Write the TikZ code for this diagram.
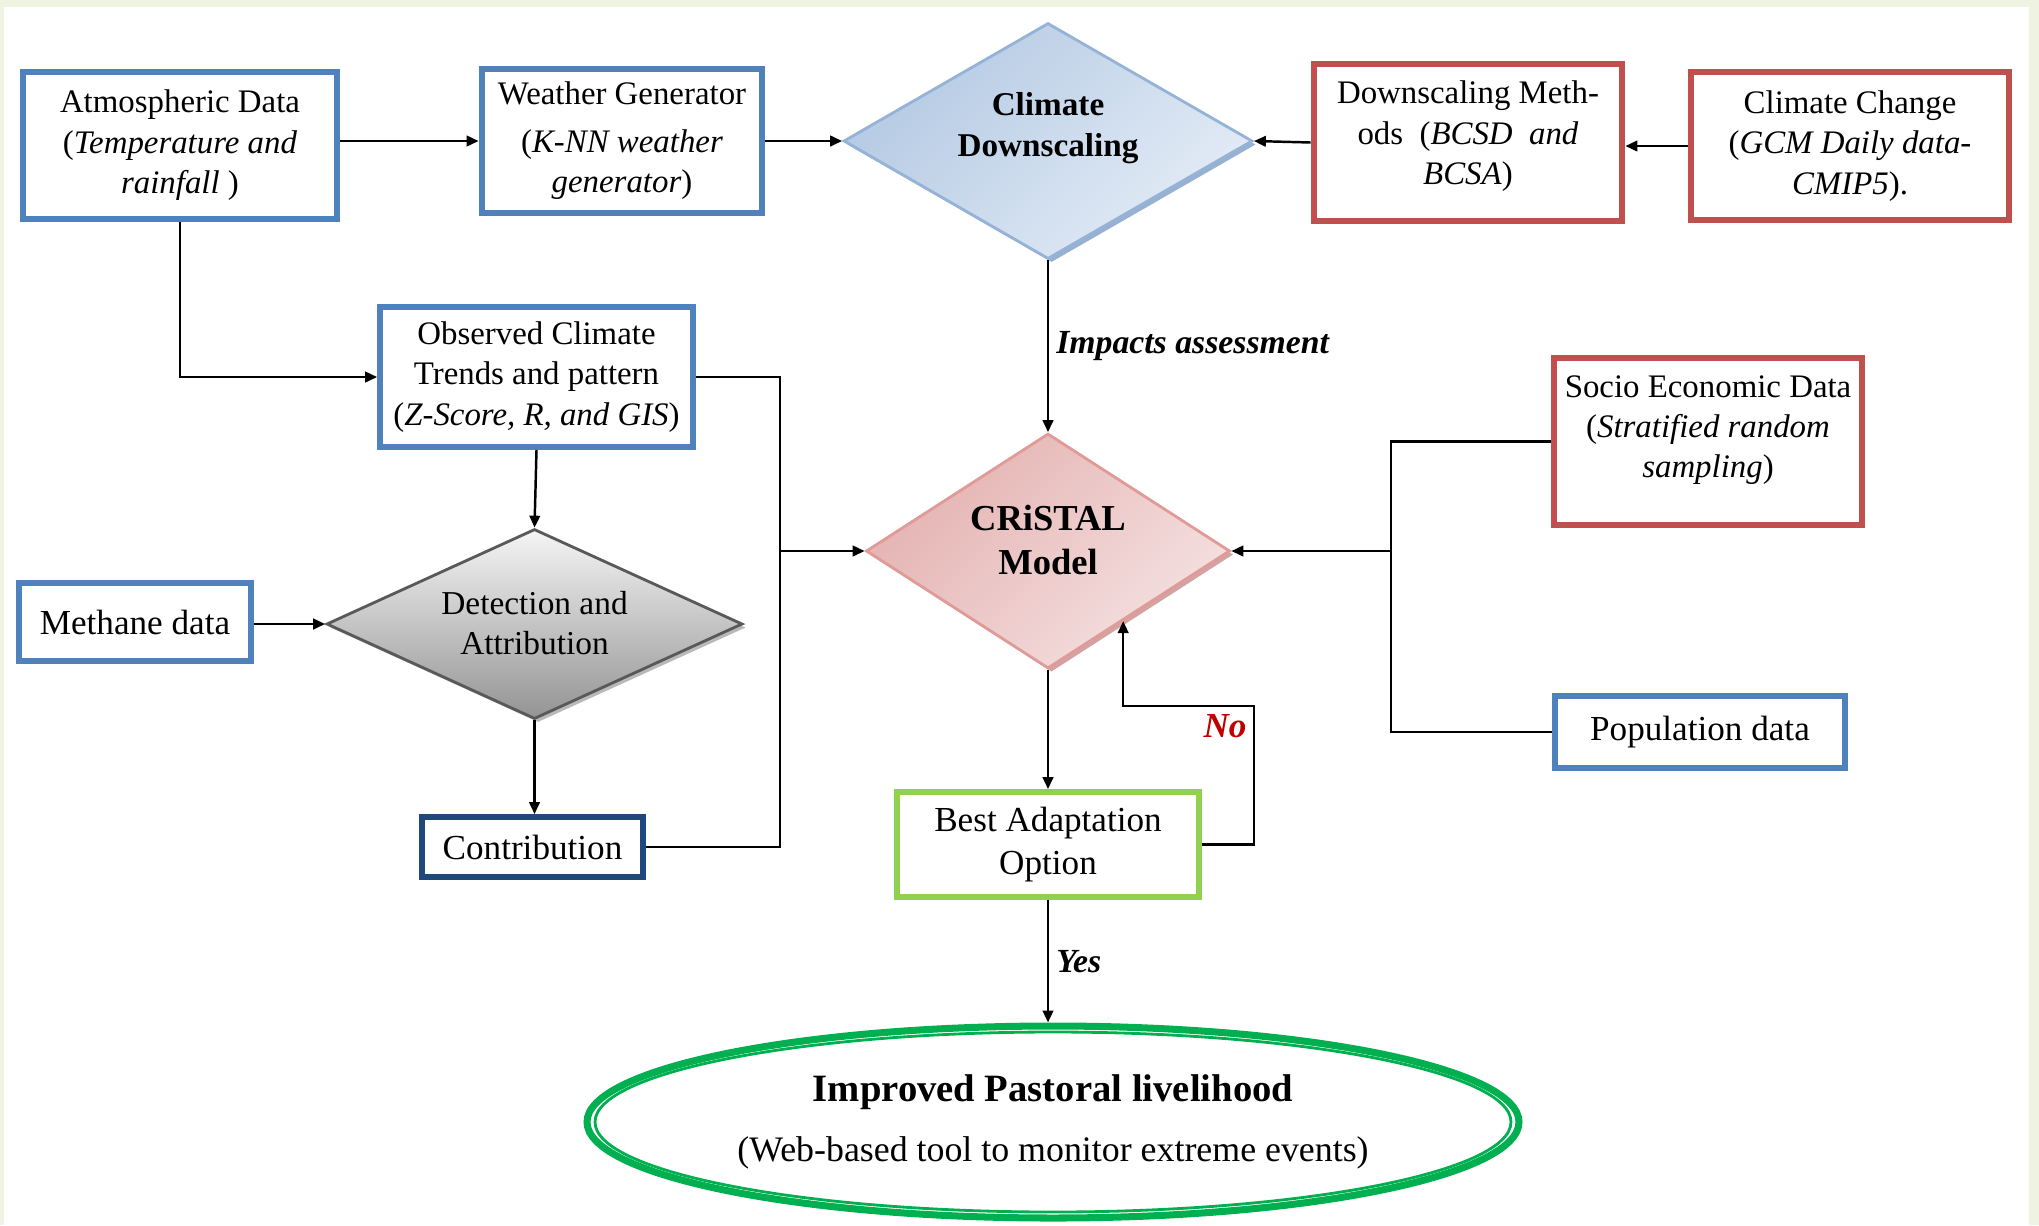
\documentclass[tikz,border=0pt]{standalone}
\usepackage{fontspec}
\setmainfont{Liberation Serif}
\usetikzlibrary{shapes.geometric,arrows.meta,shadows,calc}
\definecolor{pagegreen}{HTML}{EEF3E2}
\definecolor{boxblue}{HTML}{4F81BD}
\definecolor{boxred}{HTML}{C0504D}
\definecolor{boxgreen}{HTML}{92D050}
\definecolor{boxnavy}{HTML}{1F497D}
\definecolor{goalgreen}{HTML}{00B050}
\definecolor{noRed}{HTML}{C00000}
\definecolor{cdsline}{HTML}{95B3D7}
\definecolor{cdsdark}{HTML}{B3C9E3}
\definecolor{cdslight}{HTML}{E4ECF6}
\definecolor{cdsshadow}{HTML}{8EA9CD}
\definecolor{crline}{HTML}{E09A98}
\definecolor{crdark}{HTML}{E4B2B1}
\definecolor{crlight}{HTML}{F5E1E1}
\definecolor{crshadow}{HTML}{CF9A98}
\tikzset{
  databox/.style={draw=#1, line width=1.8pt, fill=white, align=center, inner sep=2pt,
    font=\fontsize{9.35}{11.5}\selectfont},
  onebox/.style={databox=#1, font=\fontsize{10}{12}\selectfont},
  decision/.style={diamond, inner sep=0pt},
  dtext/.style={align=center, inner sep=0pt},
  lbl/.style={font=\fontsize{9.6}{11}\selectfont\bfseries\itshape, inner sep=2pt},
  arr/.style={-{Triangle[length=3.4pt,width=3pt]}, line width=0.7pt},
  conn/.style={line width=0.7pt}
}
\begin{document}
\begin{tikzpicture}[x=0.1mm, y=-0.1mm]
  \useasboundingbox (0,0) rectangle (2039,1225);
  \fill[pagegreen] (0,0) rectangle (2039,1225);
  \fill[white] (4,7) rectangle (2029,1225);
  \path
    (180,145.5) node[databox=boxblue, minimum width=31.45mm, minimum height=14.65mm] (atmos)
      {Atmospheric Data\\(\textit{Temperature and}\\\textit{rainfall} )}
    (622,141) node[databox=boxblue, minimum width=28.05mm, minimum height=14.35mm] (wgen)
      {Weather Generator\\[2pt](\textit{K-NN weather}\\\textit{generator})}
    (1468,142.5) node[databox=boxred, minimum width=30.85mm, minimum height=15.65mm] (dsm)
      {Downscaling Meth-\\ods~ (\textit{BCSD~ and}\\\textit{BCSA})\\[-6pt]\mbox{}}
    (1850,146) node[databox=boxred, minimum width=31.85mm, minimum height=14.85mm] (cc)
      {Climate Change\\(\textit{GCM Daily data-}\\\textit{CMIP5}).}
    (536.5,377) node[databox=boxblue, minimum width=31.25mm, minimum height=13.95mm] (obs)
      {Observed Climate\\Trends and pattern\\(\textit{Z-Score, R, and GIS})}
    (1708,441.5) node[databox=boxred, minimum width=30.75mm, minimum height=16.65mm] (socio)
      {Socio Economic Data\\(\textit{Stratified random}\\\textit{sampling})\\[-3pt]\mbox{}}
    (135,622) node[onebox=boxblue, minimum width=23.25mm, minimum height=7.8mm] (meth)
      {Methane data}
    (532.5,847) node[onebox=boxnavy, minimum width=22.05mm, minimum height=5.95mm] (contrib)
      {Contribution}
    (1048,844.5) node[onebox=boxgreen, minimum width=30.15mm, minimum height=10.45mm] (best)
      {Best Adaptation\\Option}
    (1700,732) node[onebox=boxblue, minimum width=29.05mm, minimum height=7.15mm] (pop)
      {Population data};
  \path
    (1048,141) node[decision, minimum width=40.9mm, minimum height=23.6mm,
      draw=cdsline, line width=0.8pt, top color=cdsdark, bottom color=cdslight, shading angle=45,
      drop shadow={shadow xshift=1pt, shadow yshift=-1pt, fill=cdsshadow, opacity=0.9}] (cds) {}
    (1048,551) node[decision, minimum width=36.4mm, minimum height=23.5mm,
      draw=crline, line width=0.8pt, top color=crdark, bottom color=crlight, shading angle=45,
      drop shadow={shadow xshift=1pt, shadow yshift=-1pt, fill=crshadow, opacity=0.9}] (cristal) {}
    (534.5,624) node[decision, minimum width=41.6mm, minimum height=19.0mm,
      draw=black!65, line width=0.8pt, top color=black!4, bottom color=black!42,
      drop shadow={shadow xshift=1pt, shadow yshift=-1pt, fill=black!30, opacity=0.9}] (detect) {}
    (1053,1122) node[ellipse, draw=goalgreen, line width=2pt, minimum width=93.2mm,
      minimum height=19.2mm, align=center] (goal)
      {{\fontsize{11}{13}\selectfont\bfseries Improved Pastoral livelihood}\\[5pt]%
       {\fontsize{10.2}{12}\selectfont(Web-based tool to monitor extreme events)}};
  \node[dtext, font=\fontsize{9.45}{11.6}\selectfont\bfseries] (cdsText) at (1048,128)
    {Climate\\Downscaling};
  \node[dtext, font=\fontsize{10.4}{12.5}\selectfont\bfseries] (crText) at (1048,540)
    {CRiSTAL\\Model};
  \node[dtext, font=\fontsize{9.5}{11.6}\selectfont] (detText) at (534.5,623)
    {Detection and\\Attribution};
  \draw[goalgreen, line width=0.8pt] (goal.center) ellipse [x radius=45.8mm, y radius=9.0mm];
  \coordinate (jl) at (780,551);
  \coordinate (jr) at (1391,551);
  \coordinate (fb) at ($(cristal.south)!0.41!(cristal.east)$);
  \node[lbl, font=\fontsize{10}{12}\selectfont\bfseries\itshape, text=noRed] (no) at (1225,726) {No};
  \begin{scope}[conn]
    \draw (obs.east) -| (jl);
    \draw (contrib.east) -| (jl);
    \draw (socio.west) -| (jr);
    \draw (pop.west) -| (jr);
  \end{scope}
  \begin{scope}[arr]
    \draw (atmos.east |- wgen.west) -- (wgen.west);
    \draw (wgen.east) -- (cds.west);
    \draw (dsm.west) -- (cds.east);
    \draw (cc.west) -- (cc.west -| dsm.east);
    \draw (atmos.south) |- (obs.west);
    \draw (obs.south) -- (detect.north);
    \draw (meth.east |- detect.west) -- (detect.west);
    \draw (detect.south) -- (detect.south |- contrib.north);
    \draw (jl) -- (cristal.west);
    \draw (jr) -- (cristal.east);
    \draw (cds.south) -- node[lbl, right] (impact) {Impacts assessment} (cristal.north);
    \draw (cristal.south) -- (best.north);
    \draw (best.east) -| ++(52,-138.5) -| (fb);
    \draw (best.south) -- node[lbl, right] (yes) {Yes} (best.south |- goal.north);
  \end{scope}
\end{tikzpicture}
\end{document}
